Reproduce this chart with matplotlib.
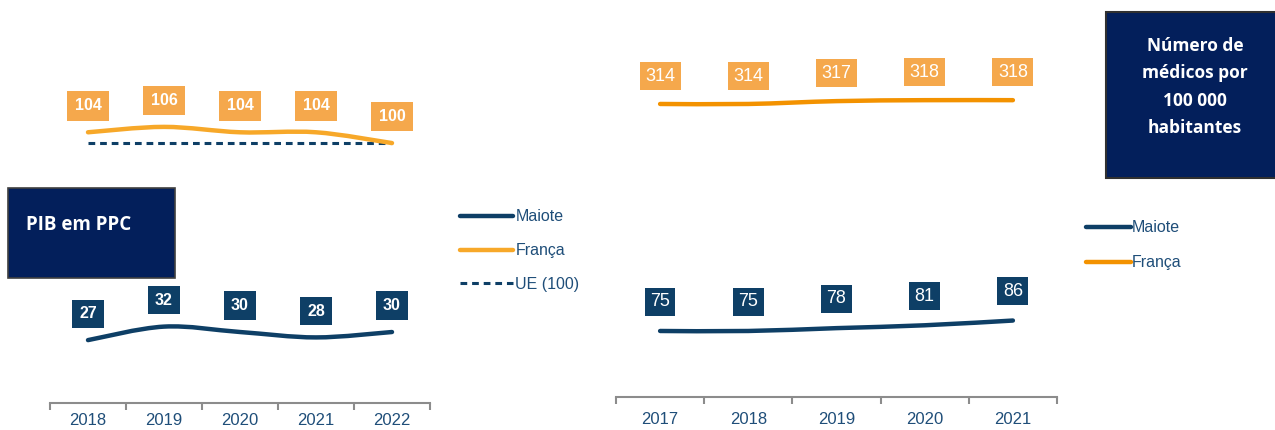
import numpy as np
import matplotlib.pyplot as plt
from matplotlib.path import Path
from matplotlib.patches import PathPatch, Rectangle
from matplotlib.lines import Line2D

# ----------------------------
# Data
# ----------------------------
pib_years = ["2018", "2019", "2020", "2021", "2022"]
pib_maiote = [27, 32, 30, 28, 30]
pib_franca = [104, 106, 104, 104, 100]
pib_ue = [100, 100, 100, 100, 100]

med_years = ["2017", "2018", "2019", "2020", "2021"]
med_maiote = [75, 75, 78, 81, 86]
med_franca = [314, 314, 317, 318, 318]

NAVY = "#0E3F66"
BOX_NAVY = "#031F5B"
ORANGE_LINE = "#F7A829"
ORANGE_LINE2 = "#F39200"
ORANGE_LABEL = "#F5A84C"
TICK_BLUE = "#1F4E79"
AXIS_GREY = "#8C8C8C"

plt.rcParams["font.family"] = ["Liberation Sans Narrow", "Liberation Sans", "DejaVu Sans"]


def smooth_path(xs, ys, tension=1 / 6):
    """Catmull-Rom style smoothing as bezier path (like Excel smoothed lines)."""
    xs = np.asarray(xs, dtype=float)
    ys = np.asarray(ys, dtype=float)
    pts = np.column_stack([xs, ys])
    verts = [pts[0]]
    codes = [Path.MOVETO]
    n = len(pts)
    for i in range(n - 1):
        p0 = pts[max(i - 1, 0)]
        p1 = pts[i]
        p2 = pts[i + 1]
        p3 = pts[min(i + 2, n - 1)]
        c1 = p1 + (p2 - p0) * tension
        c2 = p2 - (p3 - p1) * tension
        verts += [c1, c2, p2]
        codes += [Path.CURVE4] * 3
    return Path(verts, codes)


def style_axis(ax, years, pad):
    n = len(years)
    ax.set_xlim(-0.5, n - 0.5)
    for s in ["top", "right", "left"]:
        ax.spines[s].set_visible(False)
    ax.spines["bottom"].set_color(AXIS_GREY)
    ax.spines["bottom"].set_linewidth(1.5)
    ax.set_yticks([])
    ax.set_xticks(np.arange(-0.5, n, 1.0), minor=False)
    ax.set_xticklabels([])
    ax.tick_params(axis="x", which="major", length=5, width=1.5, color=AXIS_GREY, direction="out")
    ax.set_xticks(np.arange(n), minor=True)
    ax.set_xticklabels(years, minor=True)
    ax.tick_params(axis="x", which="minor", length=0, pad=pad, labelsize=12, labelcolor=TICK_BLUE)
    ax.patch.set_alpha(0)


def add_labels(ax, values, offset, face, weight, size=12.5, pad=0.35):
    for i, v in enumerate(values):
        ax.annotate(str(v), (i, v), xytext=(0, offset), textcoords="offset points",
                    ha="center", va="center", color="white", fontsize=size,
                    fontweight=weight,
                    bbox=dict(boxstyle=f"square,pad={pad}", fc=face, ec="none"))


W, H = 1275, 430
fig = plt.figure(figsize=(W / 100, H / 100), dpi=100)

# ----------------------------
# Left: PIB em PPC
# ----------------------------
ax1 = fig.add_axes([50 / W, (H - 403) / H, 380 / W, 383 / H])
style_axis(ax1, pib_years, 7)
ax1.set_ylim(3.7, 145.6)
x = np.arange(len(pib_years))
ax1.plot(x, pib_ue, color=NAVY, lw=2.2, ls=(0, (2.2, 1.6)), zorder=2)
ax1.add_patch(PathPatch(smooth_path(x, pib_franca), fc="none", ec=ORANGE_LINE,
                        lw=3.2, capstyle="round", zorder=3))
ax1.add_patch(PathPatch(smooth_path(x, pib_maiote), fc="none", ec=NAVY,
                        lw=3.2, capstyle="round", zorder=3))
add_labels(ax1, pib_franca, 19, ORANGE_LABEL, "bold", size=11.5, pad=0.45)
add_labels(ax1, pib_maiote, 19, NAVY, "bold", size=11.5, pad=0.42)

handles1 = [Line2D([], [], color=NAVY, lw=3.2, solid_capstyle="round"),
            Line2D([], [], color=ORANGE_LINE, lw=3.2, solid_capstyle="round"),
            Line2D([], [], color=NAVY, lw=2.2, ls=(0, (2.2, 1.6)))]
fig.legend(handles1, ["Maiote", "França", "UE (100)"], loc="upper left",
           bbox_to_anchor=(454 / W, 1 - 203 / H), frameon=False, fontsize=11.5,
           handlelength=3.3, handletextpad=0.15, labelspacing=1.18,
           labelcolor=TICK_BLUE, borderaxespad=0)

# title box
fig.add_artist(Rectangle((8 / W, 1 - 278 / H), 167 / W, 90 / H, transform=fig.transFigure,
                         fc=BOX_NAVY, ec="#404040", lw=1.2))
fig.text(79 / W, 1 - 225 / H, "PIB em PPC", color="white", fontsize=13.5,
         fontweight="bold", family=["Open Sans", "DejaVu Sans"], ha="center", va="center")

# ----------------------------
# Right: médicos
# ----------------------------
ax2 = fig.add_axes([616 / W, (H - 397) / H, 441 / W, 377 / H])
style_axis(ax2, med_years, 11)
ax2.set_ylim(5.5, 402.4)
x2 = np.arange(len(med_years))
ax2.add_patch(PathPatch(smooth_path(x2, med_franca), fc="none", ec=ORANGE_LINE2,
                        lw=3.2, capstyle="round", zorder=3))
ax2.add_patch(PathPatch(smooth_path(x2, med_maiote), fc="none", ec=NAVY,
                        lw=3.2, capstyle="round", zorder=3))
add_labels(ax2, med_franca, 20, ORANGE_LABEL, "normal", size=13, pad=0.3)
add_labels(ax2, med_maiote, 21, NAVY, "normal", size=13, pad=0.3)

handles2 = [Line2D([], [], color=NAVY, lw=3.2, solid_capstyle="round"),
            Line2D([], [], color=ORANGE_LINE2, lw=3.2, solid_capstyle="round")]
fig.legend(handles2, ["Maiote", "França"], loc="upper left",
           bbox_to_anchor=(1080 / W, 1 - 214 / H), frameon=False, fontsize=11.5,
           handlelength=2.8, handletextpad=0.05, labelspacing=1.25,
           labelcolor=TICK_BLUE, borderaxespad=0)

fig.add_artist(Rectangle((1106 / W, 1 - 178 / H), 175 / W, 166 / H, transform=fig.transFigure,
                         fc=BOX_NAVY, ec="#303030", lw=1.5))
fig.text(1195 / W, 1 - 87 / H, "Número de\nmédicos por\n100 000\nhabitantes", color="white",
         fontsize=12.5, fontweight="bold", family=["Open Sans", "DejaVu Sans"],
         ha="center", va="center", linespacing=1.68)

fig.savefig("out.png", dpi=100)
